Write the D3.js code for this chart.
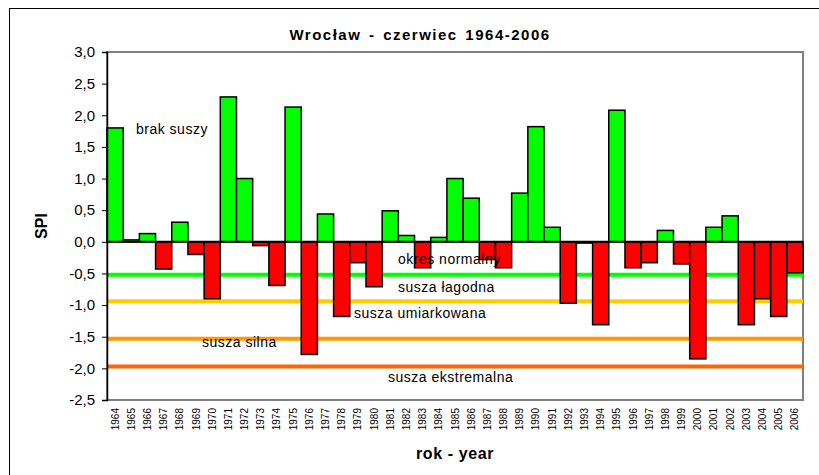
<!DOCTYPE html>
<html>
<head>
<meta charset="utf-8">
<script src="https://cdn.jsdelivr.net/npm/d3@7"></script>
<style>
  body { margin: 0; background: #fff; }
  svg { font-family: Arial, "Liberation Sans", sans-serif; }
</style>
</head>
<body>
<svg id="chart" width="819" height="475"></svg>
<script>
// --- DANE ---
const lata = d3.range(1964, 2007).map(String);
const spi = [
  1.80, 0.03, 0.13, -0.43, 0.31, -0.20, -0.90, 2.29, 1.00, -0.06,
  -0.69, 2.13, -1.78, 0.44, -1.18, -0.33, -0.71, 0.49, 0.10, -0.41,
  0.07, 1.00, 0.69, -0.28, -0.41, 0.77, 1.82, 0.23, -0.97, -0.02,
  -1.31, 2.08, -0.41, -0.33, 0.18, -0.35, -1.85, 0.23, 0.41, -1.31,
  -0.90, -1.18, -0.49
];
const yTicks = [3, 2.5, 2, 1.5, 1, 0.5, 0, -0.5, -1, -1.5, -2, -2.5];
const progi = [-0.52, -0.94, -1.53, -1.97];
const progiKolory = ["#00ff00", "#ffcc00", "#ff9900", "#ff6600"];
const opisy = ["brak suszy", "okres normalny", "susza łagodna", "susza umiarkowana", "susza silna", "susza ekstremalna"];
const opisyY = [1.78, -0.27, -0.71, -1.12, -1.58, -2.14];

// --- WYMIARY ---
const mLeft = 107, mRight = 803, mTop = 52, mBottom = 400;
const svg = d3.select("#chart");

// ramka wykresu
svg.append("rect")
  .attr("x", 9.5).attr("y", 8.5)
  .attr("width", 900).attr("height", 600)
  .attr("fill", "none").attr("stroke", "#000");

const x = d3.scaleBand().domain(lata).range([mLeft, mRight]).padding(0);
const y = d3.scaleLinear().domain([-2.5, 3]).range([mBottom, mTop]);

// obszar wykresu (szara ramka)
svg.append("rect")
  .attr("x", mLeft).attr("y", mTop)
  .attr("width", mRight - mLeft).attr("height", mBottom - mTop)
  .attr("fill", "none").attr("stroke", "#808080").attr("stroke-width", 2);

// --- LINIE PROGÓW ---
svg.append("g")
  .selectAll("line")
  .data(progi)
  .enter().append("line")
  .attr("x1", mLeft).attr("x2", mRight)
  .attr("y1", d => y(d)).attr("y2", d => y(d))
  .attr("stroke", (d, i) => progiKolory[i])
  .attr("stroke-width", 4);

// --- SŁUPKI ---
svg.append("g")
  .selectAll("rect")
  .data(spi)
  .enter().append("rect")
  .attr("x", (d, i) => x(lata[i]))
  .attr("width", x.bandwidth())
  .attr("y", d => y(Math.max(0, d)))
  .attr("height", d => Math.abs(y(d) - y(0)))
  .attr("fill", d => d >= 0 ? "#00ff00" : "#ff0000")
  .attr("stroke", "#000")
  .attr("stroke-width", 1.5);

// linia zera
svg.append("line")
  .attr("x1", mLeft).attr("x2", mRight)
  .attr("y1", y(0)).attr("y2", y(0))
  .attr("stroke", "#000").attr("stroke-width", 2);

// --- OPISY ---
const opisyX = [136, 398, 398, 354, 202, 388];
svg.append("g")
  .selectAll("text")
  .data(opisy)
  .enter().append("text")
  .attr("x", (d, i) => opisyX[i])
  .attr("y", (d, i) => y(opisyY[i]))
  .attr("dy", "0.35em")
  .attr("font-size", 14)
  .attr("letter-spacing", 0.5)
  .attr("fill", "#000")
  .text(d => d);

// --- OSIE ---
const yAxis = svg.append("g")
  .attr("transform", `translate(${mLeft},0)`)
  .call(d3.axisLeft(y).tickValues(yTicks).tickSize(5).tickPadding(7)
    .tickFormat(d => d3.format(".1f")(d).replace(".", ",").replace("−", "-")));
yAxis.select(".domain").attr("stroke", "#000").attr("stroke-width", 1.5);
yAxis.selectAll("text").attr("font-size", 15).attr("font-family", "Arial, sans-serif").attr("fill", "#000");

svg.append("g")
  .selectAll("text")
  .data(lata)
  .enter().append("text")
  .attr("transform", d => `translate(${x(d) + x.bandwidth() / 2},408) rotate(-90)`)
  .attr("text-anchor", "end")
  .attr("dy", "0.35em")
  .attr("font-size", 10)
  .text(d => d);

// --- TYTUŁY ---
svg.append("text")
  .attr("x", 420).attr("y", 40)
  .attr("text-anchor", "middle")
  .attr("font-size", 15).attr("font-weight", "bold")
  .attr("letter-spacing", 1.5).attr("word-spacing", 2)
  .text("Wrocław - czerwiec 1964-2006");

svg.append("text")
  .attr("x", 455).attr("y", 459)
  .attr("text-anchor", "middle")
  .attr("font-size", 16).attr("font-weight", "bold")
  .attr("letter-spacing", 0.6)
  .text("rok - year");

svg.append("text")
  .attr("transform", "translate(47,226) rotate(-90)")
  .attr("text-anchor", "middle")
  .attr("font-size", 16).attr("font-weight", "bold")
  .text("SPI");
</script>
</body>
</html>
